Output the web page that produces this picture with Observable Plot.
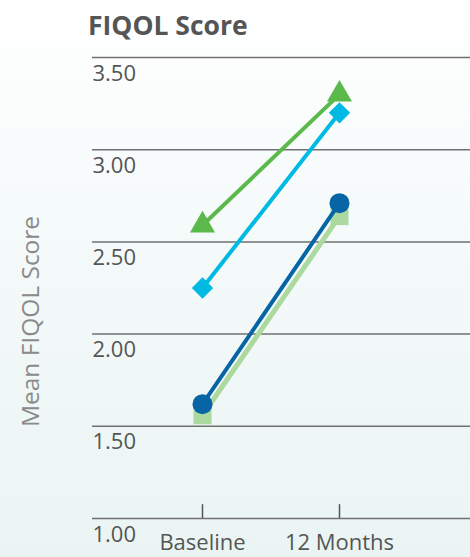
<!DOCTYPE html>
<html>
<head>
<meta charset="utf-8">
<script src="https://cdn.jsdelivr.net/npm/d3@7"></script>
<script src="https://cdn.jsdelivr.net/npm/@observablehq/plot@0.6"></script>
<style>
  html, body { margin: 0; padding: 0; }
  #wrap {
    width: 470px; height: 557px; position: relative; overflow: hidden;
    background: linear-gradient(to bottom, #ffffff 0%, #f5fafa 40%, #eaf5f3 100%);
    font-family: "Open Sans", sans-serif;
  }
  #title {
    height: 50px; box-sizing: border-box; padding: 11.5px 0 0 88px;
    font-size: 26.5px; line-height: 26.5px; font-weight: 700; color: #555;
    white-space: nowrap;
  }
  #chart svg { display: block; overflow: visible; }
</style>
</head>
<body>
<div id="wrap">
  <div id="title">FIQOL Score</div>
  <div id="chart"></div>
</div>
<script>
const timepoints = ["Baseline", "12 Months"];
const triangleScores = [2.59, 3.30];
const diamondScores = [2.25, 3.20];
const squareScores = [1.56, 2.64];
const circleScores = [1.62, 2.71];
const yTicks = [1.00, 1.50, 2.00, 2.50, 3.00, 3.50];
const yLabel = "Mean FIQOL Score";

const seriesDefs = [
  {name: "triangle", values: triangleScores, color: "#5bb84b", symbol: "triangle", r: 9.3, sw: 4},
  {name: "diamond", values: diamondScores, color: "#00bae3", symbol: "diamond2", r: 9.6, sw: 4},
  {name: "square", values: squareScores, color: "#acd9a0", symbol: "square", r: 10.2, sw: 5},
  {name: "circle", values: circleScores, color: "#0765a6", symbol: "circle", r: 10, sw: 4}
];

const marks = [
  Plot.ruleY(yTicks, {y: d => d, stroke: "#717171", strokeWidth: 1.5}),
  Plot.ruleX(timepoints, {x: d => d, y1: 1, y2: 1.075, stroke: "#555", strokeWidth: 1.5}),
  Plot.text(yTicks, {y: d => d, text: d => d.toFixed(2), frameAnchor: "left", textAnchor: "start",
    dx: 0, dy: 16, fontSize: 22, fill: "#555"}),
  Plot.text(timepoints, {x: d => d, text: d => d, frameAnchor: "bottom", dy: 31, fontSize: 22, fill: "#555"}),
  Plot.text([yLabel], {text: d => d, frameAnchor: "left", textAnchor: "middle", dx: -61, dy: 33.5,
    rotate: -90, fontSize: 24.5, fill: "#8a8a8a"})
];

for (const s of seriesDefs) {
  const rows = timepoints.map((t, i) => ({time: t, value: s.values[i]}));
  marks.push(Plot.line(rows, {x: "time", y: "value", stroke: s.color, strokeWidth: s.sw}));
  if (s.symbol === "circle") {
    marks.push(Plot.dot(rows, {x: "time", y: "value", fill: s.color, r: s.r, stroke: "none"}));
  } else {
    marks.push(Plot.dot(rows, {x: "time", y: "value", fill: s.color, r: s.r, symbol: s.symbol, stroke: "none"}));
  }
}

const chart = Plot.plot({
  width: 470,
  height: 507,
  marginTop: 7,
  marginBottom: 39,
  marginLeft: 92,
  marginRight: 0,
  style: {background: "transparent", fontFamily: "Open Sans, sans-serif", overflow: "visible"},
  x: {type: "point", domain: timepoints, range: [201.5, 339], padding: 0, axis: null},
  y: {domain: [1, 3.5], axis: null},
  marks
});
document.getElementById("chart").appendChild(chart);
</script>
</body>
</html>
